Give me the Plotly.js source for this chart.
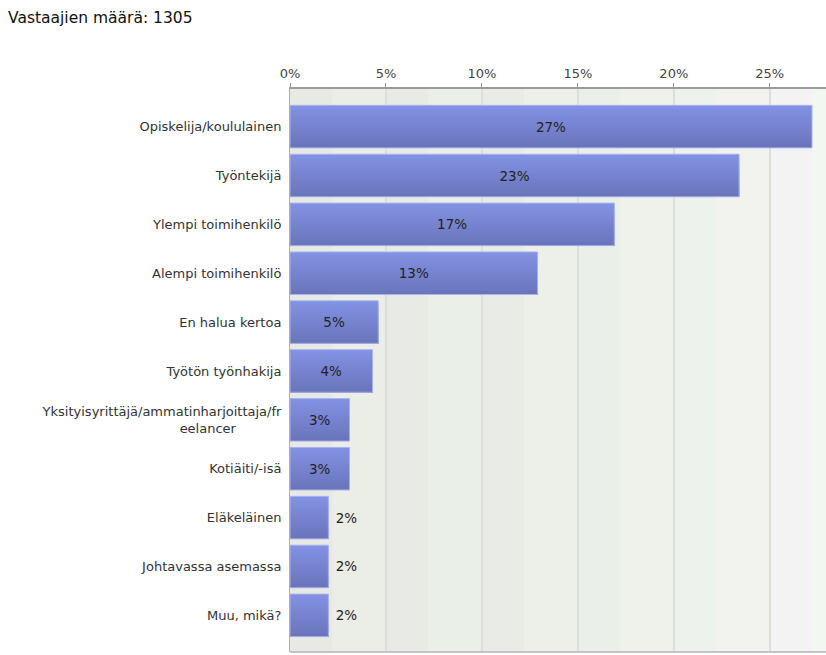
<!DOCTYPE html>
<html>
<head>
<meta charset="utf-8">
<script src="https://cdn.plot.ly/plotly-3.0.1.min.js"></script>
<style>html,body{margin:0;padding:0;background:#fff;}#chart{width:826px;height:655px;}</style>
</head>
<body>
<div id="chart"></div>
<script>
// ---- data ----
const categories = [
  "Opiskelija/koululainen",
  "Työntekijä",
  "Ylempi toimihenkilö",
  "Alempi toimihenkilö",
  "En halua kertoa",
  "Työtön työnhakija",
  "Yksityisyrittäjä/ammatinharjoittaja/fr<br>eelancer" + "\u00a0".repeat(11),
  "Kotiäiti/-isä",
  "Eläkeläinen",
  "Johtavassa asemassa",
  "Muu, mikä?"
];
const values = [27.2, 23.4, 16.9, 12.9, 4.6, 4.3, 3.1, 3.1, 2.0, 2.0, 2.0];
const valueLabels = ["27%", "23%", "17%", "13%", "5%", "4%", "3%", "3%", "2%", "2%", "2%"];
const labelPositions = ["inside", "inside", "inside", "inside", "inside", "inside", "inside", "inside", "outside", "outside", "outside"];
const tickValues = [0, 5, 10, 15, 20, 25];
const tickLabels = ["0%", "5%", "10%", "15%", "20%", "25%"];
const title = "Vastaajien määrä: 1305";

// ---- styling ----
const barWidth = 0.87;
const topColor = [130, 145, 227];
const bottomColor = [106, 117, 187];
const nBands = 12;
const traces = [];
for (let k = 0; k < nBands; k++) {
  const t = k / (nBands - 1);
  const c = topColor.map((v, i) => Math.round(v + (bottomColor[i] - v) * t));
  const w = barWidth / nBands;
  traces.push({
    type: "bar", orientation: "h",
    x: values, y: categories,
    offset: -barWidth / 2 + k * w,
    width: barWidth - k * w,
    marker: { color: "rgb(" + c.join(",") + ")", line: { width: 0 } },
    hoverinfo: "skip", showlegend: false
  });
}
const shownText = valueLabels.map((s, i) => (labelPositions[i] === "outside" ? "\u00a0" : "") + s);
traces.push({
  type: "bar", orientation: "h",
  x: values, y: categories,
  offset: -barWidth / 2, width: barWidth,
  marker: { color: "rgba(0,0,0,0)", line: { width: 1, color: "#a9b2ee" } },
  text: shownText,
  textposition: labelPositions,
  insidetextanchor: "middle",
  cliponaxis: false,
  constraintext: "none",
  textfont: { family: "DejaVu Sans", size: 13.5, color: "#222" },
  hoverinfo: "skip", showlegend: false
});

// background column bands (styling)
const colStarts = [0, 5, 10, 15, 20, 25];
const colEnds = [5, 10, 15, 20, 25, 30];
const colLeftColors = ["#e7eae4", "#e8ebe5", "#e9ece6", "#ebefe9", "#edf2ed", "#f3f3f3"];
const colRightColors = ["#eaeee6", "#eaefe7", "#edf0e9", "#eff2eb", "#f2f3ee", "#f3f7f2"];
const shapes = [];
for (let i = 0; i < colStarts.length; i++) {
  const split = colStarts[i] + 2.2;
  shapes.push({ type: "rect", layer: "below", xref: "x", yref: "paper", x0: colStarts[i], x1: split, y0: 0, y1: 1, line: { width: 0 }, fillcolor: colLeftColors[i] });
  shapes.push({ type: "rect", layer: "below", xref: "x", yref: "paper", x0: split, x1: colEnds[i], y0: 0, y1: 1, line: { width: 0 }, fillcolor: colRightColors[i] });
}

const layout = {
  width: 826, height: 655,
  margin: { l: 290, r: 0, t: 89, b: 3, pad: 0 },
  paper_bgcolor: "#ffffff",
  plot_bgcolor: "#ecefe8",
  barmode: "overlay",
  font: { family: "DejaVu Sans", color: "#333" },
  title: {
    text: title,
    xref: "container", yref: "container",
    x: 8 / 826, xanchor: "left",
    y: 1 - 18 / 655, yanchor: "middle",
    font: { family: "DejaVu Sans", size: 15.5, color: "#111" }
  },
  xaxis: {
    side: "top",
    range: [0, 27.93],
    tickmode: "array", tickvals: tickValues, ticktext: tickLabels,
    ticks: "outside", ticklen: 4, tickcolor: "#999", tickwidth: 1,
    tickfont: { family: "DejaVu Sans", size: 13, color: "#444" },
    showgrid: true, gridcolor: "#dcdfd9", gridwidth: 2,
    showline: true, linecolor: "#9c9c9c", linewidth: 2,
    zeroline: false, fixedrange: true
  },
  yaxis: {
    type: "category",
    range: [10.75, -0.77],
    ticks: "", showgrid: false,
    showline: true, linecolor: "#b0b0b0", linewidth: 1,
    ticklabelstandoff: 5,
    tickfont: { family: "DejaVu Sans", size: 13, color: "#333" },
    zeroline: false, fixedrange: true
  },
  shapes: shapes.concat([
    { type: "line", xref: "paper", yref: "paper", x0: 0, x1: 1, y0: 0, y1: 0, line: { color: "#c4c4c4", width: 2 }, layer: "above" }
  ])
};

Plotly.newPlot("chart", traces, layout, { displayModeBar: false, staticPlot: true });
</script>
</body>
</html>
